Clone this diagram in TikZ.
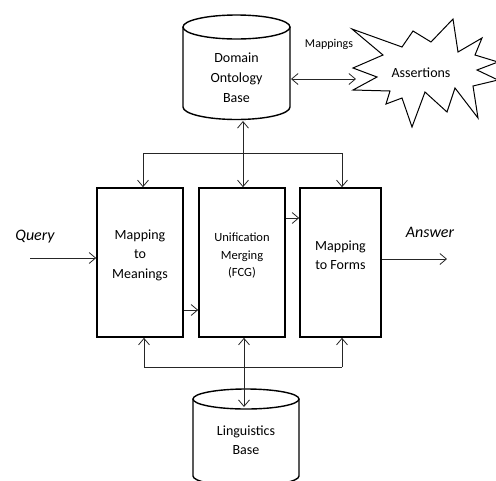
\documentclass[tikz,border=0pt]{standalone}
\usepackage{fontspec}
\setmainfont{Carlito}
\usetikzlibrary{arrows.meta,calc}
\begin{document}
\begin{tikzpicture}[x=1pt,y=-1pt,
  conn/.style={line width=0.8pt, draw=black!85},
  tip/.style={-{Straight Barb[length=6.5pt,width=11pt,line width=0.8pt]}},
  dtip/.style={{Straight Barb[length=6.5pt,width=11pt,line width=0.8pt]}-{Straight Barb[length=6.5pt,width=11pt,line width=0.8pt]}},
  box/.style={draw, line width=1.6pt, minimum width=86pt, minimum height=149pt, inner sep=0pt},
  cyl/.style={line width=1.4pt},
  bigtxt/.style={font=\fontsize{14}{19.5}\selectfont, align=center, inner sep=1pt},
  midtxt/.style={font=\fontsize{12.5}{17.5}\selectfont, align=center, inner sep=1pt},
  ittxt/.style={font=\fontsize{16}{19}\selectfont\itshape, inner sep=1pt}
]
\useasboundingbox (0,0) rectangle (496,480);

% top cylinder
\draw[cyl] (183,27) -- (183,107) arc[start angle=180,end angle=0,x radius=53.5,y radius=12.5] -- (290,27);
\draw[cyl] (236.5,27) ellipse[x radius=53.5,y radius=12];
\node[bigtxt, font=\fontsize{14}{20}\selectfont] (dob) at (236.5,78) {Domain\\Ontology\\Base};

% bottom cylinder
\begin{scope}
\clip (0,0) rectangle (496,480);
\draw[cyl] (193,399) -- (193,476) arc[start angle=180,end angle=0,x radius=53,y radius=10] -- (299,399);
\draw[cyl] (246,399) ellipse[x radius=53,y radius=10];
% starburst
\draw[line width=1pt] (352,29) -- (402,47) -- (413,31) -- (431,42) -- (453,19) -- (458,52) -- (482,38) -- (475,55)
  -- (498,62) -- (477,70) -- (498,80) -- (473,86) -- (478,118) -- (455,88) -- (447,112) -- (425,92)
  -- (412,127) -- (402,98) -- (386,104) -- (390,91) -- (353,90) -- (377,77) -- (353,68) -- (383,55) -- cycle;
\end{scope}
\node[bigtxt] (lb) at (246,440) {Linguistics\\Base};
\node[bigtxt] (asr) at (421,73) {Assertions};
\node[font=\fontsize{12}{14}\selectfont, inner sep=1pt] (map) at (329,44) {Mappings};

% boxes
\node[box] (b1) at (140,262.5) {};
\node[box, minimum width=86pt] (b2) at (242,262.5) {};
\node[box, minimum width=81pt] (b3) at (340.5,262.5) {};
\node[bigtxt] (t1) at (140,255) {Mapping\\to\\Meanings};
\node[midtxt] (t2) at (242,256) {Unification\\Merging\\(FCG)};
\node[bigtxt] (t3) at (340.5,255) {Mapping\\to Forms};

% query / answer
\node[ittxt] (q) at (35,237) {Query};
\node[ittxt] (a) at (430,232) {Answer};
\coordinate (qin) at (30,258);
\coordinate (aout) at (447,259);
\draw[conn,tip] (qin) -- (qin -| b1.west);
\draw[conn,tip] (aout -| b3.east) -- (aout);

% between boxes
\coordinate (r12) at (0,310);
\coordinate (r23) at (0,218);
\draw[conn,tip] (b1.east |- r12) -- (b2.west |- r12);
\draw[conn,tip] (b2.east |- r23) -- (b3.west |- r23);

% ontology <-> assertions
\coordinate (dobR) at (291,79);
\coordinate (asrL) at (356,79);
\draw[conn,dtip] (dobR) -- (asrL);

% top bus
\coordinate (dobB) at (243,121);
\coordinate (tbL) at (143,153);
\coordinate (tbR) at (342,153);
\draw[conn] (tbL) -- (tbR);
\draw[conn,tip] (tbL) -- (tbL |- b1.north);
\draw[conn,tip] (tbR) -- (tbR |- b3.north);
\draw[conn,dtip] (dobB) -- (dobB |- b2.north);

% bottom bus
\coordinate (bbL) at (144,367);
\coordinate (bbR) at (342,367);
\coordinate (lbT) at (244,407);
\draw[conn] (bbL) -- (bbR);
\draw[conn,tip] (bbL) -- (bbL |- b1.south);
\draw[conn,tip] (bbR) -- (bbR |- b3.south);
\draw[conn,dtip] (lbT |- b2.south) -- (lbT);
\end{tikzpicture}
\end{document}
